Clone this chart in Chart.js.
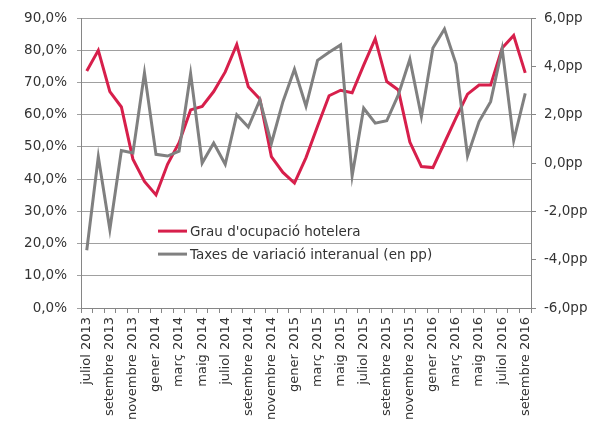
<!DOCTYPE html>
<html><head><meta charset="utf-8">
<script src="https://cdn.jsdelivr.net/npm/chart.js@4/dist/chart.umd.min.js"></script>
<style>html,body{margin:0;padding:0;background:#fff}#wrap{width:599px;height:430px;position:relative}canvas{display:block}</style>
</head><body><div id="wrap"><canvas id="c" width="599" height="430" style="width:599px;height:430px"></canvas></div>
<script>
const months = ["juliol 2013","agost 2013","setembre 2013","octubre 2013","novembre 2013","desembre 2013",
  "gener 2014","febrer 2014","març 2014","abril 2014","maig 2014","juny 2014",
  "juliol 2014","agost 2014","setembre 2014","octubre 2014","novembre 2014","desembre 2014",
  "gener 2015","febrer 2015","març 2015","abril 2015","maig 2015","juny 2015",
  "juliol 2015","agost 2015","setembre 2015","octubre 2015","novembre 2015","desembre 2015",
  "gener 2016","febrer 2016","març 2016","abril 2016","maig 2016","juny 2016",
  "juliol 2016","agost 2016","setembre 2016"];
const occupancy = [73.6, 80.0, 67.2, 62.4, 46.2, 39.3, 35.1, 44.6, 51.3, 61.5,
  62.6, 67.2, 73.3, 81.8, 68.7, 64.9, 47.0, 42.1, 38.8, 46.7,
  56.4, 65.9, 67.6, 66.8, 75.4, 83.6, 70.3, 67.7, 51.5, 43.9,
  43.6, 51.3, 59.0, 66.4, 69.2, 69.2, 80.7, 84.6, 73.0];
const variation = [-3.61, 0.26, -2.75, 0.52, 0.42, 3.73, 0.36, 0.29, 0.49, 3.70,
  0.0, 0.83, -0.05, 2.0, 1.49, 2.61, 0.81, 2.54, 3.88, 2.35,
  4.25, 4.59, 4.89, -0.53, 2.27, 1.65, 1.75, 2.82, 4.30, 1.93,
  4.76, 5.55, 4.11, 0.29, 1.72, 2.54, 4.73, 0.93, 2.88];
const seriesNames = ["Grau d'ocupació hotelera", "Taxes de variació interanual (en pp)"];
const RED = '#d71f4b', GRAY = '#808080';
const TEXT = '#333333';

Chart.defaults.font.family = "'DejaVu Sans', Verdana, sans-serif";
Chart.defaults.color = TEXT;

const legendPlugin = {
  id: 'innerLegend',
  afterDraw(chart) {
    const ctx = chart.ctx, a = chart.chartArea;
    const items = [[seriesNames[0], RED], [seriesNames[1], GRAY]];
    ctx.save();
    ctx.font = "13.5px 'DejaVu Sans', Verdana, sans-serif";
    ctx.textBaseline = 'middle';
    items.forEach((it, k) => {
      const y = a.top + 213 + k * 23;
      const x = a.left + 77;
      ctx.strokeStyle = it[1]; ctx.lineWidth = 3;
      ctx.beginPath(); ctx.moveTo(x, y); ctx.lineTo(x + 29, y); ctx.stroke();
      ctx.fillStyle = TEXT; ctx.fillText(it[0], x + 32, y + 1);
    });
    ctx.restore();
  }
};

new Chart(document.getElementById('c'), {
  type: 'line',
  data: {
    labels: months,
    datasets: [
      { label: seriesNames[0], data: occupancy, borderColor: RED, backgroundColor: RED,
        borderWidth: 3, pointRadius: 0, tension: 0, yAxisID: 'y', order: 1 },
      { label: seriesNames[1], data: variation, borderColor: GRAY, backgroundColor: GRAY,
        borderWidth: 3, pointRadius: 0, tension: 0, yAxisID: 'y1', order: 0 }
    ]
  },
  options: {
    responsive: false, animation: false, devicePixelRatio: 1,
    layout: { padding: { top: 16, left: 0, right: 0, bottom: 0 } },
    plugins: { legend: { display: false }, tooltip: { enabled: false } },
    scales: {
      x: {
        type: 'category', offset: true,
        grid: { offset: true, drawOnChartArea: false, drawTicks: true, tickLength: 5, color: '#868686' },
        border: { color: '#868686' },
        ticks: { autoSkip: false, maxRotation: 90, minRotation: 90, padding: 4,
          font: { size: 13 }, color: TEXT,
          callback: function(v, i) { return i % 2 === 0 ? this.getLabelForValue(v) : ''; } },
        afterFit(s) { s.height = 122; }
      },
      y: {
        position: 'left', min: 0, max: 90,
        grid: { color: '#a0a0a0', tickLength: 4 },
        border: { color: '#868686' },
        ticks: { stepSize: 10, padding: 10, font: { size: 13.5 }, color: TEXT,
          callback: v => v.toFixed(1).replace('.', ',') + '%' },
        afterFit(s) { s.width = 81; }
      },
      y1: {
        position: 'right', min: -6, max: 6,
        grid: { drawOnChartArea: false, tickLength: 5, color: '#868686' },
        border: { color: '#868686' },
        ticks: { stepSize: 2, padding: 8, font: { size: 13.5 }, color: TEXT,
          callback: v => v.toFixed(1).replace('.', ',') + 'pp' },
        afterFit(s) { s.width = 68; }
      }
    }
  },
  plugins: [legendPlugin]
});
</script></body></html>
